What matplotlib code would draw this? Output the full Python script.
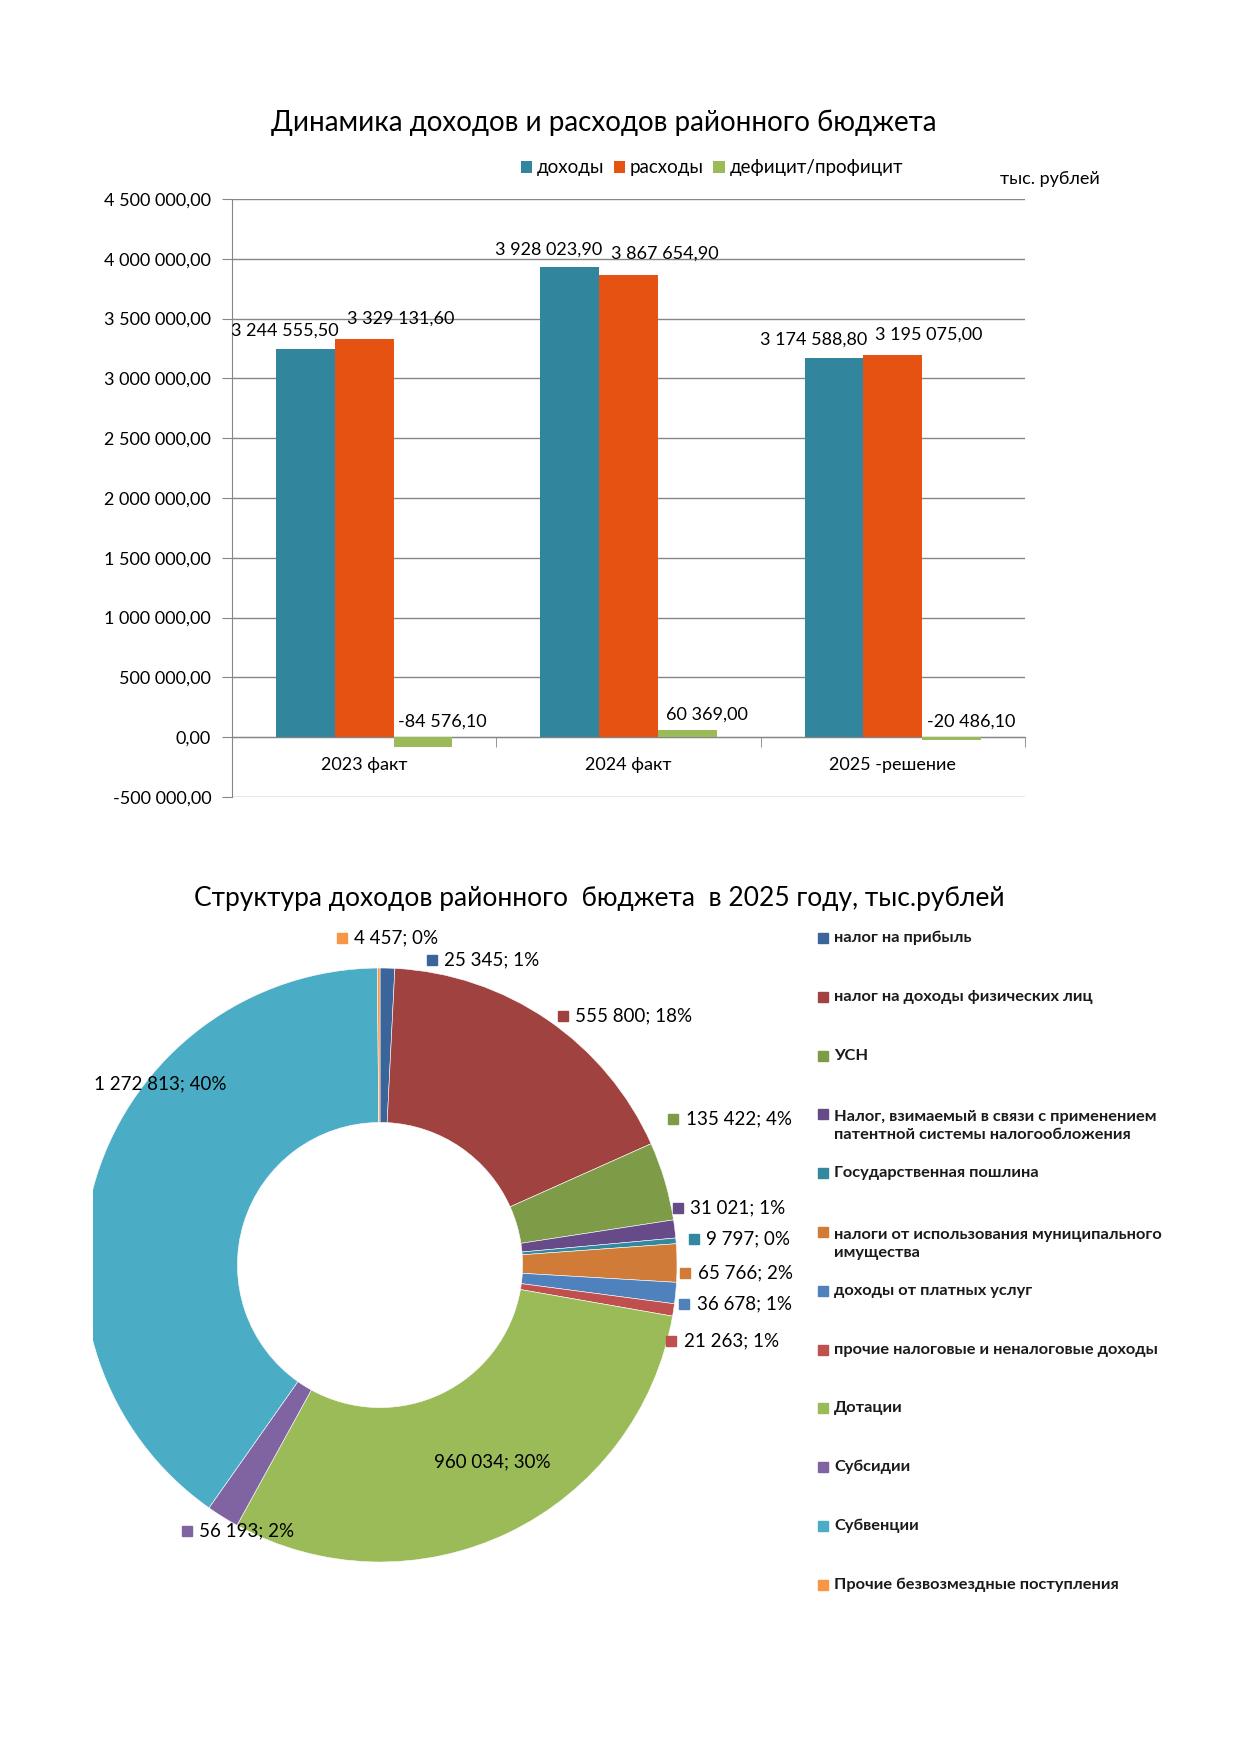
import matplotlib.pyplot as plt
import numpy as np
from matplotlib.patches import Rectangle

plt.rcParams['font.family'] = ['Lato', 'DejaVu Sans']

# bar chart data
years = ['2023 факт', '2024 факт', '2025 -решение']
income = [3244555.50, 3928023.90, 3174588.80]
expense = [3329131.60, 3867654.90, 3195075.00]
balance = [-84576.10, 60369.00, -20486.10]
bar_series = ['доходы', 'расходы', 'дефицит/профицит']

# donut data
pie_names = ['налог на прибыль',
             'налог на доходы физических лиц',
             'УСН',
             'Налог, взимаемый в связи с применением\nпатентной системы налогообложения',
             'Государственная пошлина',
             'налоги от использования муниципального\nимущества',
             'доходы от платных услуг',
             'прочие налоговые и неналоговые доходы',
             'Дотации',
             'Субсидии',
             'Субвенции',
             'Прочие безвозмездные поступления']
pie_values = [25345, 555800, 135422, 31021, 9797, 65766, 36678, 21263,
              960034, 56193, 1272813, 4457]
pie_pct = [1, 18, 4, 1, 0, 2, 1, 1, 30, 2, 40, 0]

pie_colors = ['#3B649A', '#9F4240', '#7E9B47', '#664B88', '#32889F', '#D07B37',
              '#4F81BD', '#C0504D', '#9BBB59', '#8064A2', '#4BACC6', '#F79646']
# label anchor in pie units; True = outside label with colour key
label_pos = [(0.175, 1.027, True), (0.616, 0.838, True), (0.987, 0.492, True),
             (1.003, 0.192, True), (1.057, 0.088, True), (1.027, -0.027, True),
             (1.024, -0.131, True), (0.980, -0.256, True), (0.377, -0.663, False),
             (-0.650, -0.896, True), (-0.741, 0.609, False), (-0.128, 1.101, True)]

W, H = 1241, 1754


def fmt(v):
    return f'{v:,.2f}'.replace(',', ' ').replace('.', ',')


def fmt_int(v):
    return f'{v:,d}'.replace(',', ' ')


fig = plt.figure(figsize=(W / 100, H / 100), dpi=100)

# ---------------- bar chart ----------------
ax = fig.add_axes([232 / W, 1 - 797 / H, 793 / W, 598 / H])
x = np.arange(len(years))
w = 0.222
grey = '#868686'
b1 = ax.bar(x - w, income, w, color='#31859C', label=bar_series[0], zorder=3)
b2 = ax.bar(x, expense, w, color='#E65212', label=bar_series[1], zorder=3)
b3 = ax.bar(x + w, balance, w, color='#9BBB59', label=bar_series[2], zorder=3)

ax.set_ylim(-500000, 4500000)
ax.set_xlim(-0.5, 2.5)
ax.set_yticks(np.arange(-500000, 4500001, 500000))
ax.set_yticklabels([fmt(v) for v in np.arange(-500000, 4500001, 500000)])
ax.yaxis.grid(True, color=grey, lw=1, zorder=0)
for s in ['top', 'right']:
    ax.spines[s].set_visible(False)
ax.spines['left'].set_color(grey)
ax.spines['bottom'].set_position(('data', 0))
ax.spines['bottom'].set_color(grey)
ax.set_xticks(x)
ax.set_xticklabels(years)
ax.set_xticks([-0.5, 0.5, 1.5, 2.5], minor=True)
ax.tick_params(axis='x', which='major', length=0, labelsize=13, pad=14)
ax.tick_params(axis='x', which='minor', length=7, color=grey, direction='out')
ax.tick_params(axis='y', length=7, color=grey, labelsize=13, pad=8)

offs = [(-15, 13), (26, 15), (14, 11)]
for bars, vals, (dx, dy) in zip([b1, b2, b3], [income, expense, balance], offs):
    for rect, v in zip(bars, vals):
        xc = rect.get_x() + rect.get_width() / 2
        ax.annotate(fmt(v), (xc, max(v, 0)), xytext=(dx, dy),
                    textcoords='offset points', ha='center', va='center',
                    fontsize=13, zorder=5)

fig.text(604 / W, 1 - 123 / H, 'Динамика доходов и расходов районного бюджета',
         ha='center', va='center', fontsize=20)
fig.legend(handles=[b1, b2, b3], loc='center', bbox_to_anchor=(712 / W, 1 - 168 / H),
           ncol=3, frameon=False, fontsize=13.5, handlelength=0.6, handleheight=0.6,
           handletextpad=0.25, columnspacing=0.5)
fig.text(1050 / W, 1 - 179 / H, 'тыс. рублей', ha='center', va='center', fontsize=13)

# ---------------- donut ----------------
pax = fig.add_axes([93 / W, 1 - 1640 / H, 727 / W, 740 / H])
wedges, _ = pax.pie(pie_values, colors=pie_colors, startangle=90, counterclock=False,
                    wedgeprops=dict(width=0.52, edgecolor='white', linewidth=0.4))
for wd in wedges:
    wd.set_clip_on(True)
pax.set_aspect('auto')
pax.set_xlim(-0.9663, 1.4815)
pax.set_ylim(-1.2626, 1.229)
pax.axis('off')

for v, p, c, (lx, ly, outside) in zip(pie_values, pie_pct, pie_colors, label_pos):
    txt = f'{fmt_int(v)}; {p}%'
    if outside:
        pax.plot(lx, ly, marker='s', ms=7.5, color=c, ls='none', clip_on=False)
        pax.annotate(txt, (lx, ly), xytext=(9, 0), textcoords='offset points',
                     ha='left', va='center', fontsize=13.5, annotation_clip=False)
    else:
        pax.text(lx, ly, txt, ha='center', va='center', fontsize=13.5)

fig.text(599 / W, 1 - 899 / H,
         'Структура доходов районного  бюджета  в 2025 году, тыс.рублей',
         ha='center', va='center', fontsize=19)

# legend
line_px = 23.5
for i, (name, c) in enumerate(zip(pie_names, pie_colors)):
    yc = 938 + i * 58.8
    fig.patches.append(Rectangle((818 / W, 1 - (yc + 5) / H), 10 / W, 10 / H,
                                 transform=fig.transFigure, color=c))
    n = name.count('\n')
    fig.text(834 / W, 1 - (yc + n * line_px / 2) / H, name, ha='left', va='center',
             fontsize=11.8, fontweight='bold', linespacing=1.4, color='#1a1a1a')

fig.savefig('out.png', dpi=100)
